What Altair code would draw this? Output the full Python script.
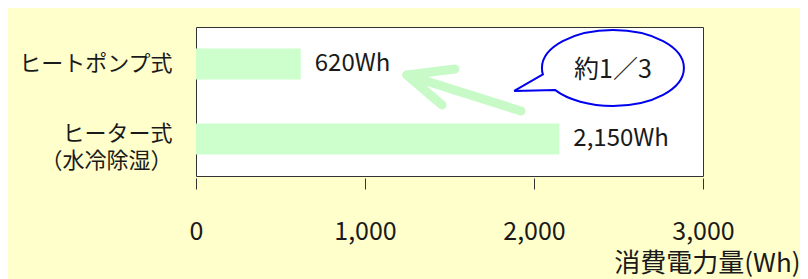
import altair as alt
import pandas as pd

# ---- data ----
categories = ["ヒートポンプ式", "ヒーター式\n（水冷除湿）"]
values = [620, 2150]
x_ticks = [0, 1000, 2000, 3000]
x_title = "消費電力量(Wh)"
callout_text = "約1／3"

# annotation anchors in data space: x in Wh, y in row units (0 = first bar row, 1 = second)
arrow_x = [1923, 1248, 1248]
arrow_y = [0.627, 0.147, 0.147]
arrow_x2 = [1248, 1532, 1456]
arrow_y2 = [0.147, 0.067, 0.547]
bubble_x = [2467]
bubble_y = [0.053]

FONT = "Noto Sans CJK JP"
TXT = "#1a1a1a"

bars_df = pd.DataFrame({
    "category": categories,
    "value": values,
    "label": [f"{v:,}Wh" for v in values],
})
arrow_df = pd.DataFrame({"x": arrow_x, "y": arrow_y, "x2": arrow_x2, "y2": arrow_y2})
bubble_df = pd.DataFrame({"x": bubble_x, "y": bubble_y, "t": [callout_text]})

xscale = alt.Scale(domain=[0, 3000], nice=False)
row_scale = alt.Scale(domain=[-0.4933, 1.4933], reverse=True)

x_enc = alt.X(
    "value:Q",
    scale=xscale,
    axis=alt.Axis(
        values=x_ticks, format=",.0f", title=x_title, grid=False, domain=False,
        tickSize=11, offset=2, tickColor="#333", labelFlush=False,
        labelFontSize=25, labelPadding=30, labelColor=TXT,
        titleX=604, titleY=85, titleAlign="right", titleBaseline="middle",
        titleFontSize=26, titleFontWeight="normal", titleColor=TXT,
    ),
)
y_enc = alt.Y(
    "category:N",
    sort=categories,
    scale=alt.Scale(paddingInner=0.587, paddingOuter=0.287),
    axis=alt.Axis(
        title=None, ticks=False, domain=False, labelFontSize=22,
        labelLineHeight=27, labelPadding=24, labelColor=TXT,
        labelExpr="split(datum.label, '\\n')",
        labelOffset={"condition": {"test": "indexof(datum.value, '水冷') >= 0", "value": -5},
                     "value": 0},
    ),
)

bars = alt.Chart(bars_df).mark_bar(color="#CCFFCC").encode(x=x_enc, y=y_enc)
labels = alt.Chart(bars_df).mark_text(
    align="left", baseline="middle", dx=14, fontSize=24, color=TXT
).encode(x="value:Q", y=alt.Y("category:N", sort=categories), text="label:N")

arrow = alt.Chart(arrow_df).mark_rule(
    color="#C8FAC8", strokeWidth=9, strokeCap="round"
).encode(
    x="x:Q", x2="x2:Q",
    y=alt.Y("y:Q", scale=row_scale, axis=None), y2="y2:Q",
)

bubble_path = (
    "M-0.986,0.09 L-1.39,0.323 L-0.817,0.309 "
    "C-0.63,0.451 -0.325,0.535 0,0.535 "
    "C0.552,0.535 1,0.296 1,0 "
    "C1,-0.296 0.552,-0.535 0,-0.535 "
    "C-0.552,-0.535 -1,-0.296 -1,0 "
    "C-1,0.045 -0.995,0.068 -0.986,0.09 Z"
)
bubble = alt.Chart(bubble_df).mark_point(
    shape=bubble_path, size=20164, filled=True, fill="white", stroke="#0000EE",
    strokeWidth=2, opacity=1, fillOpacity=1, strokeOpacity=1,
).encode(x="x:Q", y=alt.Y("y:Q", scale=row_scale, axis=None))
bubble_text = alt.Chart(bubble_df).mark_text(
    align="center", baseline="middle", fontSize=25, color=TXT, dy=2
).encode(x="x:Q", y=alt.Y("y:Q", scale=row_scale, axis=None), text="t:N")

chart = alt.layer(
    alt.layer(bars, labels),
    alt.layer(arrow, bubble, bubble_text),
).resolve_scale(y="independent").properties(
    width=507, height=149,
    autosize="none",
    padding={"left": 188, "top": 19, "right": 97, "bottom": 103},
    background="#FFFFCC",
).configure(font=FONT).configure_view(fill="white", stroke="#333", strokeWidth=1)

chart.save("out.html", embed_options={"renderer": "svg", "actions": False})
